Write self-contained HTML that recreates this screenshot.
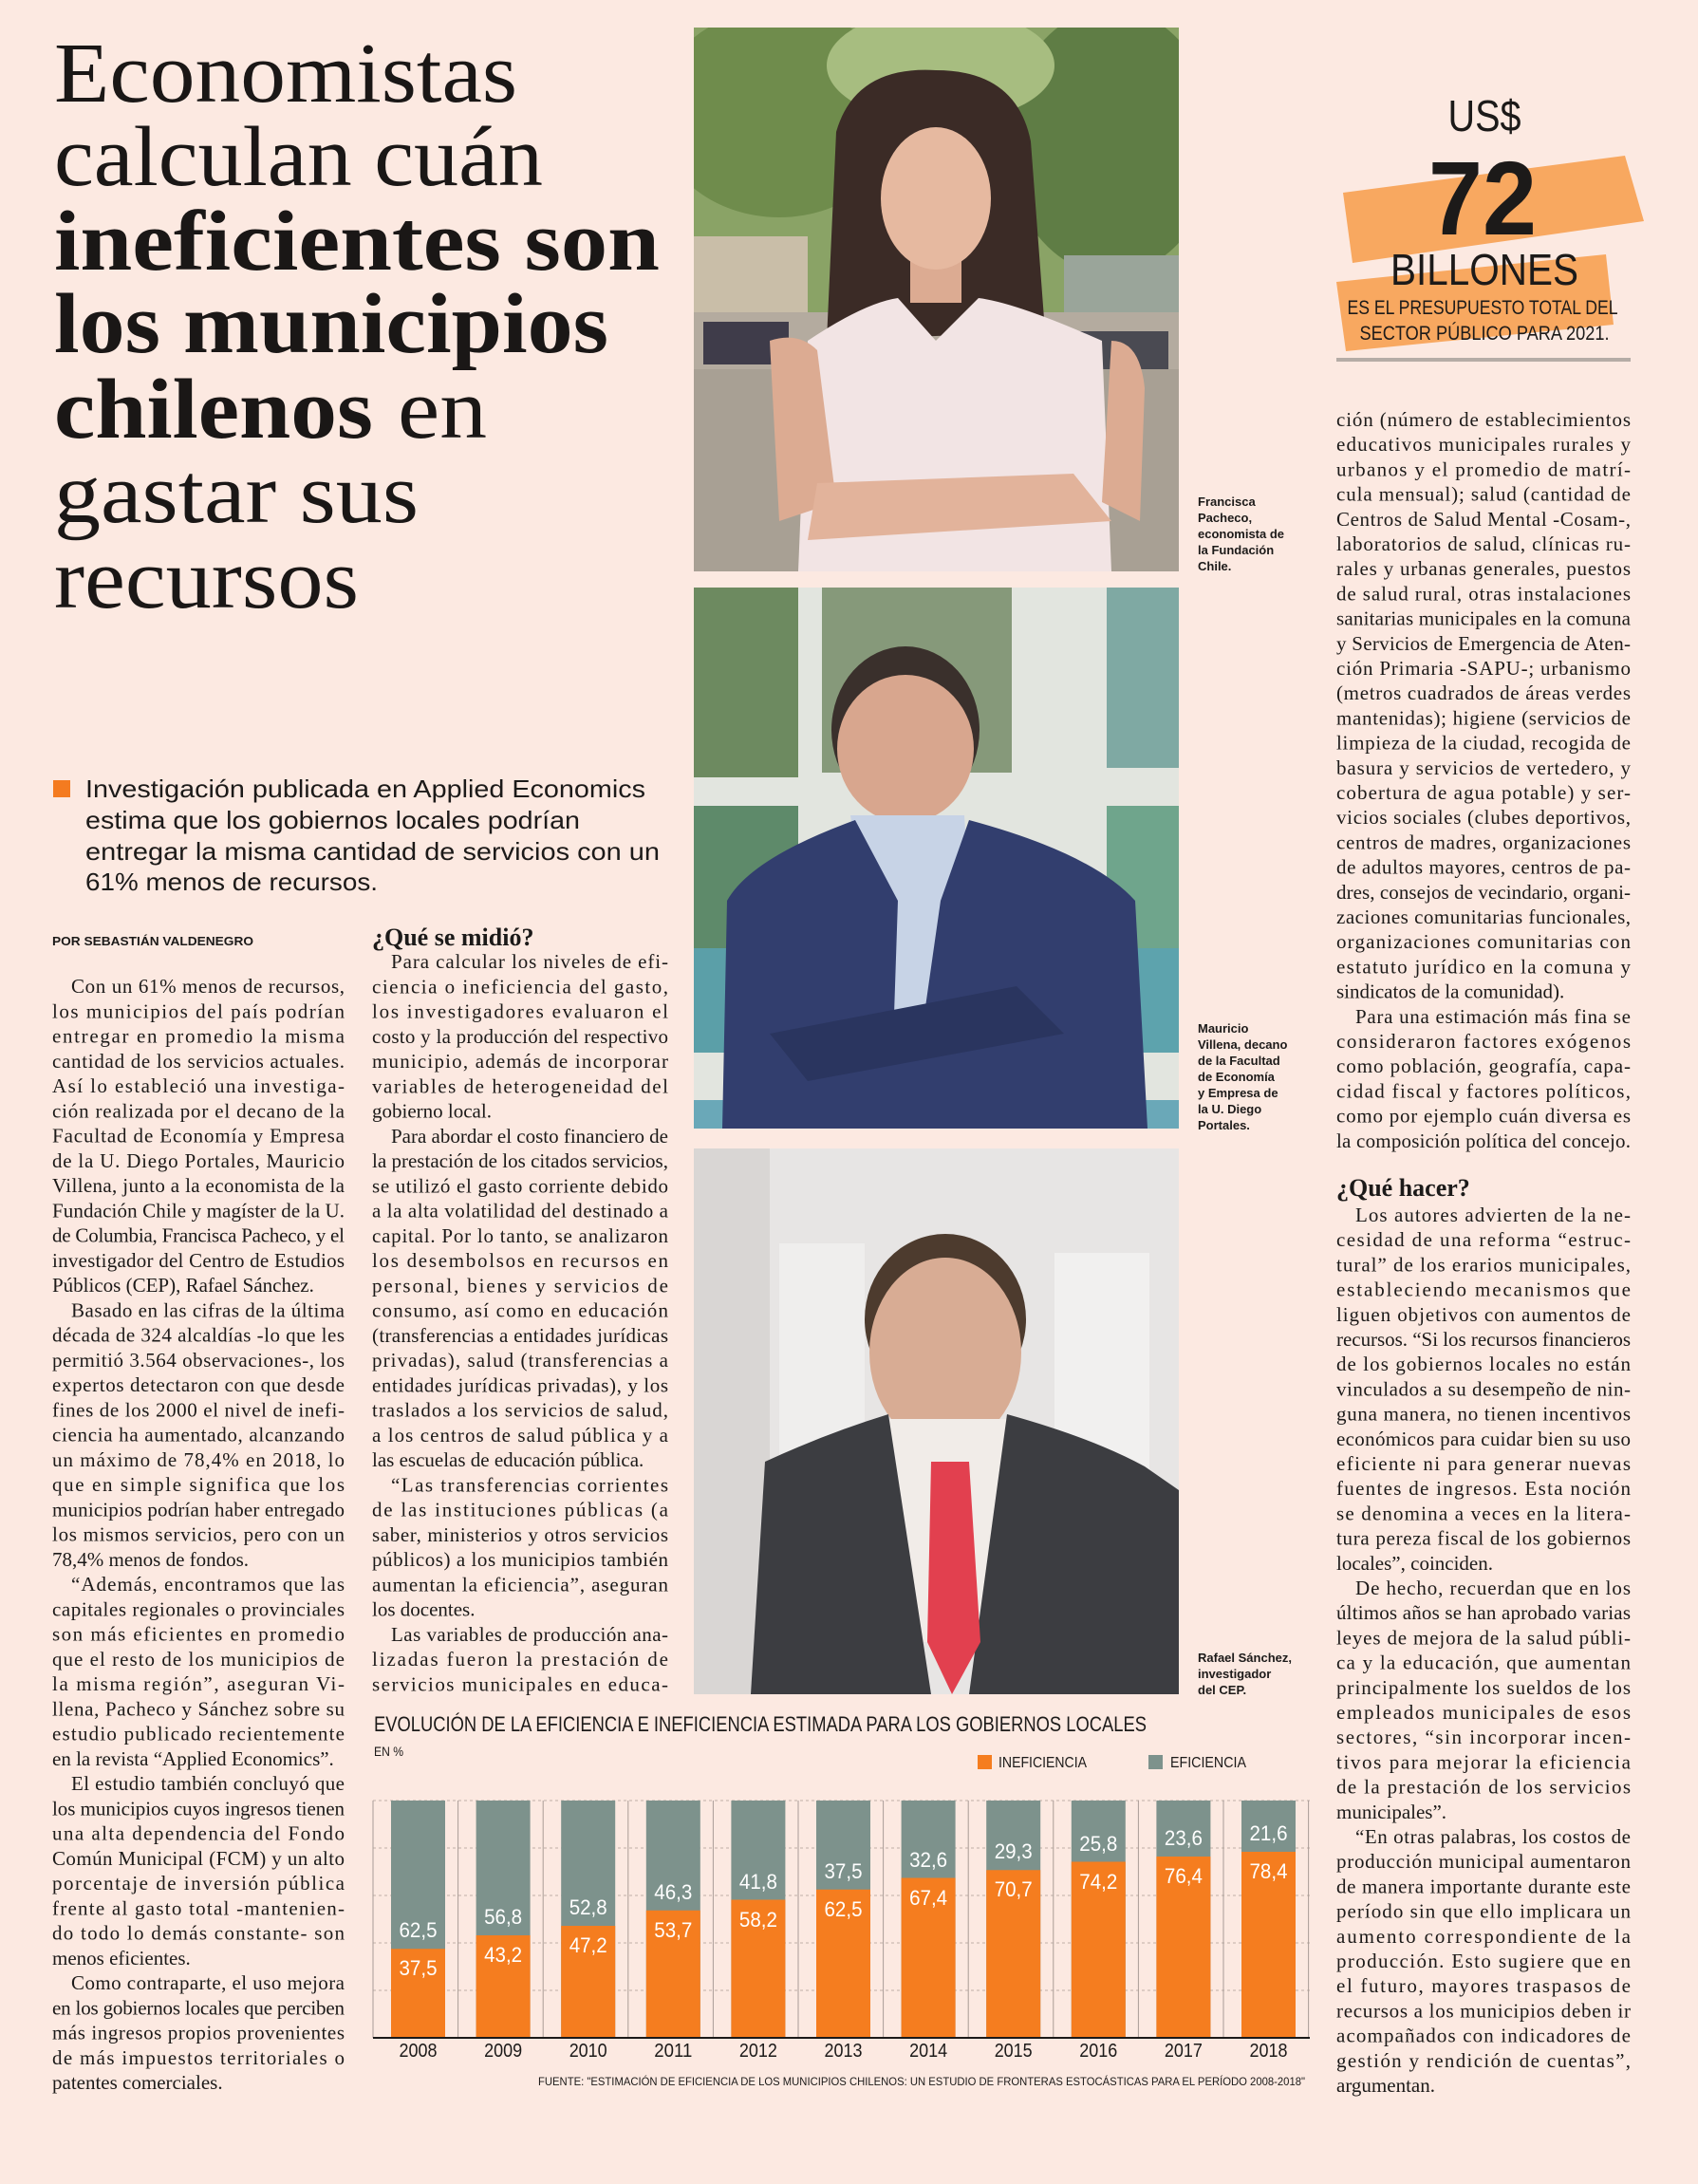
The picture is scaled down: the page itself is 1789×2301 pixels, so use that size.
<!DOCTYPE html>
<html><head><meta charset="utf-8"><style>
html,body{margin:0;padding:0;background:#fce9e1;}
svg{display:block}
.b{font-family:"Liberation Serif",serif;font-size:21px;fill:#1c1a19}
.s{font-family:"Liberation Sans",sans-serif}
</style></head><body>
<svg width="1789" height="2301" viewBox="0 0 1789 2301" xmlns="http://www.w3.org/2000/svg">
<rect width="1789" height="2301" fill="#fce9e1"/>

<!-- HEADLINE -->
<g font-family="Liberation Serif, serif" font-size="90" fill="#1a1716">
<text x="57" y="107" textLength="488" lengthAdjust="spacingAndGlyphs">Economistas</text>
<text x="57" y="195" textLength="515" lengthAdjust="spacingAndGlyphs">calculan cuán</text>
<text x="57" y="284" font-weight="bold" textLength="638" lengthAdjust="spacingAndGlyphs">ineficientes son</text>
<text x="57" y="371" font-weight="bold" textLength="584" lengthAdjust="spacingAndGlyphs">los municipios</text>
<text x="57" y="461" font-weight="bold" textLength="336" lengthAdjust="spacingAndGlyphs">chilenos</text>
<text x="419" y="461" textLength="94" lengthAdjust="spacingAndGlyphs">en</text>
<text x="57" y="550" textLength="384" lengthAdjust="spacingAndGlyphs">gastar sus</text>
<text x="57" y="640" textLength="321" lengthAdjust="spacingAndGlyphs">recursos</text>
</g>

<!-- SUBTITLE -->
<rect x="56" y="822" width="18" height="18" fill="#f47b20"/>
<g class="s" font-size="26" fill="#1c1a19">
<text x="90" y="840" textLength="590" lengthAdjust="spacingAndGlyphs">Investigación publicada en Applied Economics</text>
<text x="90" y="873" textLength="521" lengthAdjust="spacingAndGlyphs">estima que los gobiernos locales podrían</text>
<text x="90" y="906" textLength="605" lengthAdjust="spacingAndGlyphs">entregar la misma cantidad de servicios con un</text>
<text x="90" y="938" textLength="308" lengthAdjust="spacingAndGlyphs">61% menos de recursos.</text>
</g>
<text x="55" y="996" class="s" font-size="12.5" font-weight="bold" fill="#1c1a19" textLength="212" lengthAdjust="spacingAndGlyphs">POR SEBASTIÁN VALDENEGRO</text>

<!-- COLUMN 1 -->
<g class="b">
<text x="75" y="1046" textLength="288" lengthAdjust="spacing">Con un 61% menos de recursos,</text>
<text x="55" y="1072.25" textLength="308" lengthAdjust="spacing">los municipios del país podrían</text>
<text x="55" y="1098.5" textLength="308" lengthAdjust="spacing">entregar en promedio la misma</text>
<text x="55" y="1124.75" textLength="308" lengthAdjust="spacing">cantidad de los servicios actuales.</text>
<text x="55" y="1151" textLength="308" lengthAdjust="spacing">Así lo estableció una investiga-</text>
<text x="55" y="1177.25" textLength="308" lengthAdjust="spacing">ción realizada por el decano de la</text>
<text x="55" y="1203.5" textLength="308" lengthAdjust="spacing">Facultad de Economía y Empresa</text>
<text x="55" y="1229.75" textLength="308" lengthAdjust="spacing">de la U. Diego Portales, Mauricio</text>
<text x="55" y="1256" textLength="308" lengthAdjust="spacing">Villena, junto a la economista de la</text>
<text x="55" y="1282.25" textLength="308" lengthAdjust="spacing">Fundación Chile y magíster de la U.</text>
<text x="55" y="1308.5" textLength="308" lengthAdjust="spacing">de Columbia, Francisca Pacheco, y el</text>
<text x="55" y="1334.75" textLength="308" lengthAdjust="spacing">investigador del Centro de Estudios</text>
<text x="55" y="1361">Públicos (CEP), Rafael Sánchez.</text>
<text x="75" y="1387.25" textLength="288" lengthAdjust="spacing">Basado en las cifras de la última</text>
<text x="55" y="1413.5" textLength="308" lengthAdjust="spacing">década de 324 alcaldías -lo que les</text>
<text x="55" y="1439.75" textLength="308" lengthAdjust="spacing">permitió 3.564 observaciones-, los</text>
<text x="55" y="1466" textLength="308" lengthAdjust="spacing">expertos detectaron con que desde</text>
<text x="55" y="1492.25" textLength="308" lengthAdjust="spacing">fines de los 2000 el nivel de inefi-</text>
<text x="55" y="1518.5" textLength="308" lengthAdjust="spacing">ciencia ha aumentado, alcanzando</text>
<text x="55" y="1544.75" textLength="308" lengthAdjust="spacing">un máximo de 78,4% en 2018, lo</text>
<text x="55" y="1571" textLength="308" lengthAdjust="spacing">que en simple significa que los</text>
<text x="55" y="1597.25" textLength="308" lengthAdjust="spacing">municipios podrían haber entregado</text>
<text x="55" y="1623.5" textLength="308" lengthAdjust="spacing">los mismos servicios, pero con un</text>
<text x="55" y="1649.75">78,4% menos de fondos.</text>
<text x="75" y="1676" textLength="288" lengthAdjust="spacing">“Además, encontramos que las</text>
<text x="55" y="1702.25" textLength="308" lengthAdjust="spacing">capitales regionales o provinciales</text>
<text x="55" y="1728.5" textLength="308" lengthAdjust="spacing">son más eficientes en promedio</text>
<text x="55" y="1754.75" textLength="308" lengthAdjust="spacing">que el resto de los municipios de</text>
<text x="55" y="1781" textLength="308" lengthAdjust="spacing">la misma región”, aseguran Vi-</text>
<text x="55" y="1807.25" textLength="308" lengthAdjust="spacing">llena, Pacheco y Sánchez sobre su</text>
<text x="55" y="1833.5" textLength="308" lengthAdjust="spacing">estudio publicado recientemente</text>
<text x="55" y="1859.75">en la revista “Applied Economics”.</text>
<text x="75" y="1886" textLength="288" lengthAdjust="spacing">El estudio también concluyó que</text>
<text x="55" y="1912.25" textLength="308" lengthAdjust="spacing">los municipios cuyos ingresos tienen</text>
<text x="55" y="1938.5" textLength="308" lengthAdjust="spacing">una alta dependencia del Fondo</text>
<text x="55" y="1964.75" textLength="308" lengthAdjust="spacing">Común Municipal (FCM) y un alto</text>
<text x="55" y="1991" textLength="308" lengthAdjust="spacing">porcentaje de inversión pública</text>
<text x="55" y="2017.25" textLength="308" lengthAdjust="spacing">frente al gasto total -mantenien-</text>
<text x="55" y="2043.5" textLength="308" lengthAdjust="spacing">do todo lo demás constante- son</text>
<text x="55" y="2069.75">menos eficientes.</text>
<text x="75" y="2096" textLength="288" lengthAdjust="spacing">Como contraparte, el uso mejora</text>
<text x="55" y="2122.25" textLength="308" lengthAdjust="spacing">en los gobiernos locales que perciben</text>
<text x="55" y="2148.5" textLength="308" lengthAdjust="spacing">más ingresos propios provenientes</text>
<text x="55" y="2174.75" textLength="308" lengthAdjust="spacing">de más impuestos territoriales o</text>
<text x="55" y="2201">patentes comerciales.</text>
</g>

<!-- COLUMN 2 -->
<text x="392" y="996" font-family="Liberation Serif, serif" font-weight="bold" font-size="26" fill="#1c1a19">¿Qué se midió?</text>
<g class="b">
<text x="412" y="1020" textLength="292" lengthAdjust="spacing">Para calcular los niveles de efi-</text>
<text x="392" y="1046.25" textLength="312" lengthAdjust="spacing">ciencia o ineficiencia del gasto,</text>
<text x="392" y="1072.5" textLength="312" lengthAdjust="spacing">los investigadores evaluaron el</text>
<text x="392" y="1098.75" textLength="312" lengthAdjust="spacing">costo y la producción del respectivo</text>
<text x="392" y="1125" textLength="312" lengthAdjust="spacing">municipio, además de incorporar</text>
<text x="392" y="1151.25" textLength="312" lengthAdjust="spacing">variables de heterogeneidad del</text>
<text x="392" y="1177.5">gobierno local.</text>
<text x="412" y="1203.75" textLength="292" lengthAdjust="spacing">Para abordar el costo financiero de</text>
<text x="392" y="1230" textLength="312" lengthAdjust="spacing">la prestación de los citados servicios,</text>
<text x="392" y="1256.25" textLength="312" lengthAdjust="spacing">se utilizó el gasto corriente debido</text>
<text x="392" y="1282.5" textLength="312" lengthAdjust="spacing">a la alta volatilidad del destinado a</text>
<text x="392" y="1308.75" textLength="312" lengthAdjust="spacing">capital. Por lo tanto, se analizaron</text>
<text x="392" y="1335" textLength="312" lengthAdjust="spacing">los desembolsos en recursos en</text>
<text x="392" y="1361.25" textLength="312" lengthAdjust="spacing">personal, bienes y servicios de</text>
<text x="392" y="1387.5" textLength="312" lengthAdjust="spacing">consumo, así como en educación</text>
<text x="392" y="1413.75" textLength="312" lengthAdjust="spacing">(transferencias a entidades jurídicas</text>
<text x="392" y="1440" textLength="312" lengthAdjust="spacing">privadas), salud (transferencias a</text>
<text x="392" y="1466.25" textLength="312" lengthAdjust="spacing">entidades jurídicas privadas), y los</text>
<text x="392" y="1492.5" textLength="312" lengthAdjust="spacing">traslados a los servicios de salud,</text>
<text x="392" y="1518.75" textLength="312" lengthAdjust="spacing">a los centros de salud pública y a</text>
<text x="392" y="1545">las escuelas de educación pública.</text>
<text x="412" y="1571.25" textLength="292" lengthAdjust="spacing">“Las transferencias corrientes</text>
<text x="392" y="1597.5" textLength="312" lengthAdjust="spacing">de las instituciones públicas (a</text>
<text x="392" y="1623.75" textLength="312" lengthAdjust="spacing">saber, ministerios y otros servicios</text>
<text x="392" y="1650" textLength="312" lengthAdjust="spacing">públicos) a los municipios también</text>
<text x="392" y="1676.25" textLength="312" lengthAdjust="spacing">aumentan la eficiencia”, aseguran</text>
<text x="392" y="1702.5">los docentes.</text>
<text x="412" y="1728.75" textLength="292" lengthAdjust="spacing">Las variables de producción ana-</text>
<text x="392" y="1755" textLength="312" lengthAdjust="spacing">lizadas fueron la prestación de</text>
<text x="392" y="1781.25" textLength="312" lengthAdjust="spacing">servicios municipales en educa-</text>
</g>

<!-- COLUMN 3 -->
<g class="b">
<text x="1408" y="449" textLength="310" lengthAdjust="spacing">ción (número de establecimientos</text>
<text x="1408" y="475.2" textLength="310" lengthAdjust="spacing">educativos municipales rurales y</text>
<text x="1408" y="501.4" textLength="310" lengthAdjust="spacing">urbanos y el promedio de matrí-</text>
<text x="1408" y="527.6" textLength="310" lengthAdjust="spacing">cula mensual); salud (cantidad de</text>
<text x="1408" y="553.8" textLength="310" lengthAdjust="spacing">Centros de Salud Mental -Cosam-,</text>
<text x="1408" y="580" textLength="310" lengthAdjust="spacing">laboratorios de salud, clínicas ru-</text>
<text x="1408" y="606.2" textLength="310" lengthAdjust="spacing">rales y urbanas generales, puestos</text>
<text x="1408" y="632.4" textLength="310" lengthAdjust="spacing">de salud rural, otras instalaciones</text>
<text x="1408" y="658.6" textLength="310" lengthAdjust="spacing">sanitarias municipales en la comuna</text>
<text x="1408" y="684.8" textLength="310" lengthAdjust="spacing">y Servicios de Emergencia de Aten-</text>
<text x="1408" y="711" textLength="310" lengthAdjust="spacing">ción Primaria -SAPU-; urbanismo</text>
<text x="1408" y="737.2" textLength="310" lengthAdjust="spacing">(metros cuadrados de áreas verdes</text>
<text x="1408" y="763.4" textLength="310" lengthAdjust="spacing">mantenidas); higiene (servicios de</text>
<text x="1408" y="789.6" textLength="310" lengthAdjust="spacing">limpieza de la ciudad, recogida de</text>
<text x="1408" y="815.8" textLength="310" lengthAdjust="spacing">basura y servicios de vertedero, y</text>
<text x="1408" y="842" textLength="310" lengthAdjust="spacing">cobertura de agua potable) y ser-</text>
<text x="1408" y="868.2" textLength="310" lengthAdjust="spacing">vicios sociales (clubes deportivos,</text>
<text x="1408" y="894.4" textLength="310" lengthAdjust="spacing">centros de madres, organizaciones</text>
<text x="1408" y="920.6" textLength="310" lengthAdjust="spacing">de adultos mayores, centros de pa-</text>
<text x="1408" y="946.8" textLength="310" lengthAdjust="spacing">dres, consejos de vecindario, organi-</text>
<text x="1408" y="973" textLength="310" lengthAdjust="spacing">zaciones comunitarias funcionales,</text>
<text x="1408" y="999.2" textLength="310" lengthAdjust="spacing">organizaciones comunitarias con</text>
<text x="1408" y="1025.4" textLength="310" lengthAdjust="spacing">estatuto jurídico en la comuna y</text>
<text x="1408" y="1051.6">sindicatos de la comunidad).</text>
<text x="1428" y="1077.8" textLength="290" lengthAdjust="spacing">Para una estimación más fina se</text>
<text x="1408" y="1104" textLength="310" lengthAdjust="spacing">consideraron factores exógenos</text>
<text x="1408" y="1130.2" textLength="310" lengthAdjust="spacing">como población, geografía, capa-</text>
<text x="1408" y="1156.4" textLength="310" lengthAdjust="spacing">cidad fiscal y factores políticos,</text>
<text x="1408" y="1182.6" textLength="310" lengthAdjust="spacing">como por ejemplo cuán diversa es</text>
<text x="1408" y="1208.8" textLength="310" lengthAdjust="spacing">la composición política del concejo.</text>
</g>
<text x="1408" y="1260" font-family="Liberation Serif, serif" font-weight="bold" font-size="26" fill="#1c1a19">¿Qué hacer?</text>
<g class="b">
<text x="1428" y="1287" textLength="290" lengthAdjust="spacing">Los autores advierten de la ne-</text>
<text x="1408" y="1313.2" textLength="310" lengthAdjust="spacing">cesidad de una reforma “estruc-</text>
<text x="1408" y="1339.4" textLength="310" lengthAdjust="spacing">tural” de los erarios municipales,</text>
<text x="1408" y="1365.6" textLength="310" lengthAdjust="spacing">estableciendo mecanismos que</text>
<text x="1408" y="1391.8" textLength="310" lengthAdjust="spacing">liguen objetivos con aumentos de</text>
<text x="1408" y="1418" textLength="310" lengthAdjust="spacing">recursos. “Si los recursos financieros</text>
<text x="1408" y="1444.2" textLength="310" lengthAdjust="spacing">de los gobiernos locales no están</text>
<text x="1408" y="1470.4" textLength="310" lengthAdjust="spacing">vinculados a su desempeño de nin-</text>
<text x="1408" y="1496.6" textLength="310" lengthAdjust="spacing">guna manera, no tienen incentivos</text>
<text x="1408" y="1522.8" textLength="310" lengthAdjust="spacing">económicos para cuidar bien su uso</text>
<text x="1408" y="1549" textLength="310" lengthAdjust="spacing">eficiente ni para generar nuevas</text>
<text x="1408" y="1575.2" textLength="310" lengthAdjust="spacing">fuentes de ingresos. Esta noción</text>
<text x="1408" y="1601.4" textLength="310" lengthAdjust="spacing">se denomina a veces en la litera-</text>
<text x="1408" y="1627.6" textLength="310" lengthAdjust="spacing">tura pereza fiscal de los gobiernos</text>
<text x="1408" y="1653.8">locales”, coinciden.</text>
<text x="1428" y="1680" textLength="290" lengthAdjust="spacing">De hecho, recuerdan que en los</text>
<text x="1408" y="1706.2" textLength="310" lengthAdjust="spacing">últimos años se han aprobado varias</text>
<text x="1408" y="1732.4" textLength="310" lengthAdjust="spacing">leyes de mejora de la salud públi-</text>
<text x="1408" y="1758.6" textLength="310" lengthAdjust="spacing">ca y la educación, que aumentan</text>
<text x="1408" y="1784.8" textLength="310" lengthAdjust="spacing">principalmente los sueldos de los</text>
<text x="1408" y="1811" textLength="310" lengthAdjust="spacing">empleados municipales de esos</text>
<text x="1408" y="1837.2" textLength="310" lengthAdjust="spacing">sectores, “sin incorporar incen-</text>
<text x="1408" y="1863.4" textLength="310" lengthAdjust="spacing">tivos para mejorar la eficiencia</text>
<text x="1408" y="1889.6" textLength="310" lengthAdjust="spacing">de la prestación de los servicios</text>
<text x="1408" y="1915.8">municipales”.</text>
<text x="1428" y="1942" textLength="290" lengthAdjust="spacing">“En otras palabras, los costos de</text>
<text x="1408" y="1968.2" textLength="310" lengthAdjust="spacing">producción municipal aumentaron</text>
<text x="1408" y="1994.4" textLength="310" lengthAdjust="spacing">de manera importante durante este</text>
<text x="1408" y="2020.6" textLength="310" lengthAdjust="spacing">período sin que ello implicara un</text>
<text x="1408" y="2046.8" textLength="310" lengthAdjust="spacing">aumento correspondiente de la</text>
<text x="1408" y="2073" textLength="310" lengthAdjust="spacing">producción. Esto sugiere que en</text>
<text x="1408" y="2099.2" textLength="310" lengthAdjust="spacing">el futuro, mayores traspasos de</text>
<text x="1408" y="2125.4" textLength="310" lengthAdjust="spacing">recursos a los municipios deben ir</text>
<text x="1408" y="2151.6" textLength="310" lengthAdjust="spacing">acompañados con indicadores de</text>
<text x="1408" y="2177.8" textLength="310" lengthAdjust="spacing">gestión y rendición de cuentas”,</text>
<text x="1408" y="2204">argumentan.</text>
</g>

<!-- INFO BOX -->
<polygon points="1415,203 1712,164 1732,233 1425,277" fill="#f8a860"/>
<polygon points="1408,297 1692,268 1700,342 1418,370" fill="#f8a860"/>
<g class="s" fill="#1c1a19" text-anchor="middle">
<text x="1564" y="138" font-size="46" textLength="77" lengthAdjust="spacingAndGlyphs">US$</text>
<text x="1562" y="247" font-size="110" font-weight="bold" textLength="114" lengthAdjust="spacingAndGlyphs">72</text>
<text x="1564" y="300" font-size="46" textLength="198" lengthAdjust="spacingAndGlyphs">BILLONES</text>
<text x="1562" y="331" font-size="21" textLength="285" lengthAdjust="spacingAndGlyphs">ES EL PRESUPUESTO TOTAL DEL</text>
<text x="1564" y="358" font-size="21" textLength="263" lengthAdjust="spacingAndGlyphs">SECTOR PÚBLICO PARA 2021.</text>
</g>
<rect x="1408" y="377" width="310" height="4" fill="#b5aca6"/>

<!-- PHOTO 1 -->
<svg x="731" y="29" width="511" height="573" viewBox="0 0 511 573">
<rect width="511" height="573" fill="#8aa366"/>
<ellipse cx="90" cy="90" rx="130" ry="110" fill="#6f8c4c"/>
<ellipse cx="440" cy="120" rx="110" ry="140" fill="#5f7d45"/>
<ellipse cx="260" cy="40" rx="120" ry="60" fill="#a7bd80"/>
<rect x="0" y="220" width="120" height="90" fill="#c9bea8"/>
<rect x="390" y="240" width="121" height="70" fill="#9aa59a"/>
<rect x="0" y="300" width="511" height="273" fill="#b4ab9f"/>
<rect x="0" y="360" width="511" height="213" fill="#a8a094"/>
<rect x="10" y="310" width="90" height="45" fill="#3f3c4a"/>
<rect x="400" y="320" width="100" height="40" fill="#4a4a52"/>
<path d="M150,110 Q170,40 255,45 Q340,45 355,120 L370,320 L140,330 Z" fill="#3b2b26"/>
<rect x="228" y="230" width="54" height="60" fill="#dcab92"/>
<ellipse cx="255" cy="180" rx="58" ry="75" fill="#e6b9a0"/>
<path d="M120,330 Q180,290 215,285 L255,330 L300,285 Q340,290 430,330 L440,573 L110,573 Z" fill="#f2e4e4"/>
<path d="M80,330 Q110,320 130,340 L150,500 L90,520 Z" fill="#dcab92"/>
<path d="M440,330 Q470,330 475,380 L470,520 L430,500 Z" fill="#dcab92"/>
<path d="M130,480 L400,470 L440,520 L120,540 Z" fill="#e2b39b"/>
</svg>

<!-- PHOTO 2 -->
<svg x="731" y="619" width="511" height="570" viewBox="0 0 511 570">
<rect width="511" height="570" fill="#e2e5df"/>
<rect x="0" y="0" width="110" height="200" fill="#6d8a60"/>
<rect x="135" y="0" width="200" height="195" fill="#86997a"/>
<rect x="435" y="0" width="76" height="190" fill="#7fa9a3"/>
<rect x="0" y="230" width="110" height="260" fill="#5e8a6a"/>
<rect x="435" y="230" width="76" height="260" fill="#6fa58c"/>
<rect x="0" y="380" width="511" height="110" fill="#5aa2b3" opacity="0.85"/>
<rect x="0" y="540" width="511" height="30" fill="#6aa8b8"/>
<ellipse cx="223" cy="150" rx="78" ry="88" fill="#3a302c"/>
<ellipse cx="223" cy="170" rx="72" ry="78" fill="#d8a68e"/>
<path d="M165,240 L285,240 L300,480 L200,480 Z" fill="#c7d3e6"/>
<path d="M30,570 L35,330 Q60,285 170,245 L215,330 L210,480 L240,470 L260,330 L290,245 Q420,280 465,330 L478,570 Z" fill="#323e6e"/>
<path d="M80,470 L340,420 L390,470 L120,520 Z" fill="#2a355f"/>
</svg>

<!-- PHOTO 3 -->
<svg x="731" y="1210" width="511" height="575" viewBox="0 0 511 575">
<rect width="511" height="575" fill="#e7e5e4"/>
<rect x="0" y="0" width="80" height="575" fill="#d9d6d4"/>
<rect x="90" y="100" width="90" height="360" fill="#efeeed"/>
<rect x="380" y="110" width="100" height="300" fill="#f1f0ef"/>
<ellipse cx="265" cy="180" rx="85" ry="90" fill="#4d3b2e"/>
<ellipse cx="265" cy="215" rx="80" ry="100" fill="#d8ac94"/>
<path d="M200,285 L335,285 L315,520 L225,520 Z" fill="#f1ece8"/>
<path d="M60,575 L75,330 Q140,300 205,280 L250,575 Z" fill="#3c3d41"/>
<path d="M330,280 Q420,305 475,335 L511,360 L511,575 L290,575 Z" fill="#3c3d41"/>
<polygon points="250,330 290,330 302,520 272,575 246,520" fill="#e2404f"/>
</svg>

<!-- CAPTIONS -->
<g class="s" font-size="13" font-weight="bold" fill="#1c1a19">
<text x="1262" y="533">Francisca</text>
<text x="1262" y="550">Pacheco,</text>
<text x="1262" y="567">economista de</text>
<text x="1262" y="584">la Fundación</text>
<text x="1262" y="601">Chile.</text>
<text x="1262" y="1088">Mauricio</text>
<text x="1262" y="1105">Villena, decano</text>
<text x="1262" y="1122">de la Facultad</text>
<text x="1262" y="1139">de Economía</text>
<text x="1262" y="1156">y Empresa de</text>
<text x="1262" y="1173">la U. Diego</text>
<text x="1262" y="1190">Portales.</text>
<text x="1262" y="1751">Rafael Sánchez,</text>
<text x="1262" y="1768">investigador</text>
<text x="1262" y="1785">del CEP.</text>
</g>

<!-- CHART -->
<g class="s">
<text x="394" y="1824" font-size="22" fill="#1c1a19" textLength="814" lengthAdjust="spacingAndGlyphs">EVOLUCIÓN DE LA EFICIENCIA E INEFICIENCIA ESTIMADA PARA LOS GOBIERNOS LOCALES</text>
<text x="394" y="1850" font-size="14" fill="#1c1a19" textLength="31" lengthAdjust="spacingAndGlyphs">EN %</text>
<rect x="1030" y="1849" width="15" height="15" fill="#f57d1f"/>
<text x="1052" y="1862" font-size="16" fill="#1c1a19" textLength="93" lengthAdjust="spacingAndGlyphs">INEFICIENCIA</text>
<rect x="1210" y="1849" width="15" height="15" fill="#7d928c"/>
<text x="1233" y="1862" font-size="16" fill="#1c1a19" textLength="80" lengthAdjust="spacingAndGlyphs">EFICIENCIA</text>
</g>
<g stroke="#bfaea6" stroke-width="1" stroke-dasharray="3,3">
<line x1="393" y1="1897" x2="1380" y2="1897"/>
<line x1="393" y1="1947" x2="1380" y2="1947"/>
<line x1="393" y1="1997" x2="1380" y2="1997"/>
<line x1="393" y1="2047" x2="1380" y2="2047"/>
<line x1="393" y1="2097" x2="1380" y2="2097"/>
</g>
<g stroke="#a99c96" stroke-width="1">
<line x1="393" y1="1897" x2="393" y2="2147"/>
<line x1="482.6" y1="1897" x2="482.6" y2="2147"/>
<line x1="572.2" y1="1897" x2="572.2" y2="2147"/>
<line x1="661.8" y1="1897" x2="661.8" y2="2147"/>
<line x1="751.4" y1="1897" x2="751.4" y2="2147"/>
<line x1="841" y1="1897" x2="841" y2="2147"/>
<line x1="930.6" y1="1897" x2="930.6" y2="2147"/>
<line x1="1020.2" y1="1897" x2="1020.2" y2="2147"/>
<line x1="1109.8" y1="1897" x2="1109.8" y2="2147"/>
<line x1="1199.4" y1="1897" x2="1199.4" y2="2147"/>
<line x1="1289" y1="1897" x2="1289" y2="2147"/>
<line x1="1378.6" y1="1897" x2="1378.6" y2="2147"/>
</g>
<g>
<!-- bars: grey full then orange -->
<rect x="412" y="1897" width="57" height="250" fill="#7d928c"/><rect x="412" y="2053.25" width="57" height="93.75" fill="#f57d1f"/>
<rect x="501.6" y="1897" width="57" height="250" fill="#7d928c"/><rect x="501.6" y="2039" width="57" height="108" fill="#f57d1f"/>
<rect x="591.2" y="1897" width="57" height="250" fill="#7d928c"/><rect x="591.2" y="2029" width="57" height="118" fill="#f57d1f"/>
<rect x="680.8" y="1897" width="57" height="250" fill="#7d928c"/><rect x="680.8" y="2012.75" width="57" height="134.25" fill="#f57d1f"/>
<rect x="770.4" y="1897" width="57" height="250" fill="#7d928c"/><rect x="770.4" y="2001.5" width="57" height="145.5" fill="#f57d1f"/>
<rect x="860" y="1897" width="57" height="250" fill="#7d928c"/><rect x="860" y="1990.75" width="57" height="156.25" fill="#f57d1f"/>
<rect x="949.6" y="1897" width="57" height="250" fill="#7d928c"/><rect x="949.6" y="1978.5" width="57" height="168.5" fill="#f57d1f"/>
<rect x="1039.2" y="1897" width="57" height="250" fill="#7d928c"/><rect x="1039.2" y="1970.25" width="57" height="176.75" fill="#f57d1f"/>
<rect x="1128.8" y="1897" width="57" height="250" fill="#7d928c"/><rect x="1128.8" y="1961.5" width="57" height="185.5" fill="#f57d1f"/>
<rect x="1218.4" y="1897" width="57" height="250" fill="#7d928c"/><rect x="1218.4" y="1956" width="57" height="191" fill="#f57d1f"/>
<rect x="1308" y="1897" width="57" height="250" fill="#7d928c"/><rect x="1308" y="1951" width="57" height="196" fill="#f57d1f"/>
</g>
<line x1="393" y1="2147" x2="1380" y2="2147" stroke="#1c1a19" stroke-width="2"/>
<g class="s" font-size="22" fill="#ffffff" text-anchor="middle">
<text x="440.5" y="2041" textLength="40" lengthAdjust="spacingAndGlyphs">62,5</text><text x="440.5" y="2081" textLength="40" lengthAdjust="spacingAndGlyphs">37,5</text>
<text x="530.1" y="2027" textLength="40" lengthAdjust="spacingAndGlyphs">56,8</text><text x="530.1" y="2067" textLength="40" lengthAdjust="spacingAndGlyphs">43,2</text>
<text x="619.7" y="2017" textLength="40" lengthAdjust="spacingAndGlyphs">52,8</text><text x="619.7" y="2057" textLength="40" lengthAdjust="spacingAndGlyphs">47,2</text>
<text x="709.3" y="2001" textLength="40" lengthAdjust="spacingAndGlyphs">46,3</text><text x="709.3" y="2041" textLength="40" lengthAdjust="spacingAndGlyphs">53,7</text>
<text x="798.9" y="1990" textLength="40" lengthAdjust="spacingAndGlyphs">41,8</text><text x="798.9" y="2030" textLength="40" lengthAdjust="spacingAndGlyphs">58,2</text>
<text x="888.5" y="1979" textLength="40" lengthAdjust="spacingAndGlyphs">37,5</text><text x="888.5" y="2019" textLength="40" lengthAdjust="spacingAndGlyphs">62,5</text>
<text x="978.1" y="1967" textLength="40" lengthAdjust="spacingAndGlyphs">32,6</text><text x="978.1" y="2007" textLength="40" lengthAdjust="spacingAndGlyphs">67,4</text>
<text x="1067.7" y="1958" textLength="40" lengthAdjust="spacingAndGlyphs">29,3</text><text x="1067.7" y="1998" textLength="40" lengthAdjust="spacingAndGlyphs">70,7</text>
<text x="1157.3" y="1950" textLength="40" lengthAdjust="spacingAndGlyphs">25,8</text><text x="1157.3" y="1990" textLength="40" lengthAdjust="spacingAndGlyphs">74,2</text>
<text x="1246.9" y="1944" textLength="40" lengthAdjust="spacingAndGlyphs">23,6</text><text x="1246.9" y="1984" textLength="40" lengthAdjust="spacingAndGlyphs">76,4</text>
<text x="1336.5" y="1939" textLength="40" lengthAdjust="spacingAndGlyphs">21,6</text><text x="1336.5" y="1979" textLength="40" lengthAdjust="spacingAndGlyphs">78,4</text>
</g>
<g class="s" font-size="20" fill="#1c1a19" text-anchor="middle">
<text x="440.5" y="2167" textLength="40" lengthAdjust="spacingAndGlyphs">2008</text>
<text x="530.1" y="2167" textLength="40" lengthAdjust="spacingAndGlyphs">2009</text>
<text x="619.7" y="2167" textLength="40" lengthAdjust="spacingAndGlyphs">2010</text>
<text x="709.3" y="2167" textLength="40" lengthAdjust="spacingAndGlyphs">2011</text>
<text x="798.9" y="2167" textLength="40" lengthAdjust="spacingAndGlyphs">2012</text>
<text x="888.5" y="2167" textLength="40" lengthAdjust="spacingAndGlyphs">2013</text>
<text x="978.1" y="2167" textLength="40" lengthAdjust="spacingAndGlyphs">2014</text>
<text x="1067.7" y="2167" textLength="40" lengthAdjust="spacingAndGlyphs">2015</text>
<text x="1157.3" y="2167" textLength="40" lengthAdjust="spacingAndGlyphs">2016</text>
<text x="1246.9" y="2167" textLength="40" lengthAdjust="spacingAndGlyphs">2017</text>
<text x="1336.5" y="2167" textLength="40" lengthAdjust="spacingAndGlyphs">2018</text>
</g>
<text x="567" y="2197" class="s" font-size="12" fill="#1c1a19" textLength="808" lengthAdjust="spacingAndGlyphs">FUENTE: "ESTIMACIÓN DE EFICIENCIA DE LOS MUNICIPIOS CHILENOS: UN ESTUDIO DE FRONTERAS ESTOCÁSTICAS PARA EL PERÍODO 2008-2018"</text>
</svg>
</body></html>
